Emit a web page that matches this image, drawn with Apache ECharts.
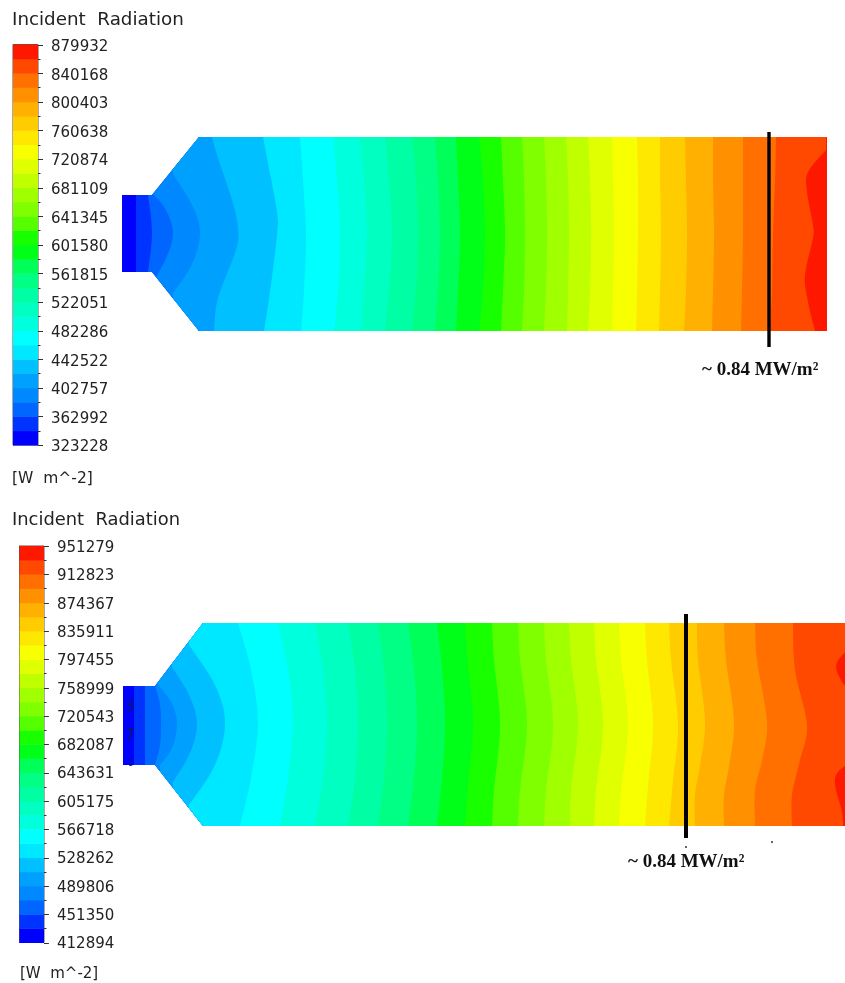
<!DOCTYPE html>
<html><head><meta charset="utf-8">
<style>html,body{margin:0;padding:0;background:#fff}#c{width:845px;height:983px;filter:blur(0.5px)}</style>
<script src="https://cdn.jsdelivr.net/npm/echarts@6/dist/echarts.min.js"></script>
</head><body><div id="c"></div>
<script>
// ---- colour bar tick labels (bottom to top) ----
const topLabels = [323228,362992,402757,442522,482286,522051,561815,601580,641345,681109,720874,760638,800403,840168,879932];
const bottomLabels = [412894,451350,489806,528262,566718,605175,643631,682087,720543,758999,797455,835911,874367,912823,951279];
// ---- 28 contour levels, lowest to highest ----
const levelColors = ['#0000ff','#0033ff','#0066ff','#0088ff','#00a0ff','#00c0ff','#00e8ff','#00ffff','#00ffdc','#00ffc0','#00ffa4','#00ff84','#00ff58','#00ff18','#18ff00','#55ff00','#80ff00','#a0ff00','#c0ff00','#e0ff00','#f8ff00','#ffe800','#ffcc00','#ffb000','#ff9000','#ff7000','#ff4800','#ff1800'];
// ---- domain outlines ----
const topDomain = [[122,195],[152,195],[199,137],[827,137],[827,331],[199,331],[152,272],[122,272]];
const bottomDomain = [[123,686],[155,686],[203,623],[846,623],[846,826],[203,826],[155,765],[123,765]];
// ---- contour lines ----
const topContours = [
 [[136,195],[136,272]],
 [[148,195],[152,233],[148,272]],
 [[153,194],[166,210],[173,233],[167,256],[156,277]],
 [[173,174],[192,205],[200,233],[192,264],[173,293]],
 [[212,137],[217,155],[232,200],[238,228],[236,250],[218,298],[214,331]],
 [[263,137],[267,158],[277,212],[277,235],[270,292],[264,331]],
 [[300,137],[303,180],[306,235],[304,290],[301,331]],
 [[333,137],[337,180],[340,235],[338,290],[334,331]],
 [[360,137],[364,180],[367,235],[364,290],[361,331]],
 [[385,137],[389,180],[392,235],[389,290],[385,331]],
 [[412,137],[416,180],[418,235],[416,290],[412,331]],
 [[435,137],[438,180],[440,235],[438,290],[435,331]],
 [[456,137],[458,180],[460,235],[458,290],[456,331]],
 [[479,137],[483,180],[485,235],[483,290],[479,331]],
 [[501,137],[503,180],[505,235],[503,290],[501,331]],
 [[522,137],[524,180],[525,235],[524,290],[522,331]],
 [[544,137],[546,180],[547,235],[546,290],[544,331]],
 [[566,137],[568,180],[569,235],[568,290],[567,331]],
 [[588,137],[590,180],[591,235],[590,290],[588,331]],
 [[612,137],[613,180],[614,235],[613,290],[612,331]],
 [[637,137],[638,180],[638,235],[637,290],[636,331]],
 [[660,137],[660,180],[661,235],[660,290],[659,331]],
 [[685,137],[686,180],[687,235],[686,290],[684,331]],
 [[713,137],[713,180],[714,235],[713,290],[712,331]],
 [[743,137],[743,180],[743,235],[742,290],[741,331]],
 [[776,137],[775,180],[773,235],[772,290],[770,331]],
 [[826,150],[808,172],[807,192],[813,225],[813,238],[805,275],[808,302],[815,331]]
];
const bottomContours = [
 [[134,686],[134,765]],
 [[145,686],[145,765]],
 [[155,685],[160,705],[161,725],[160,745],[155,765]],
 [[157,683],[171,702],[177,723],[172,748],[160,765]],
 [[172,667],[189,695],[197,723],[190,753],[173,782]],
 [[189,645],[215,685],[225,723],[215,765],[189,805]],
 [[238,623],[251,670],[258,723],[251,778],[240,826]],
 [[278,623],[288,670],[293,723],[288,778],[280,826]],
 [[315,623],[323,670],[327,723],[323,778],[315,826]],
 [[348,623],[355,670],[358,723],[355,778],[348,826]],
 [[378,623],[384,670],[387,723],[384,778],[378,826]],
 [[408,623],[414,670],[417,723],[414,778],[408,826]],
 [[437,623],[442,670],[445,723],[442,778],[437,826]],
 [[465,623],[468,665],[473,723],[468,785],[465,826]],
 [[492,623],[494,660],[500,725],[494,790],[492,826]],
 [[518,623],[520,660],[527,725],[520,790],[518,826]],
 [[544,623],[546,660],[553,725],[546,790],[544,826]],
 [[569,623],[571,660],[578,725],[571,790],[570,826]],
 [[594,623],[596,660],[603,725],[596,790],[594,826]],
 [[619,623],[621,660],[628,725],[621,790],[619,826]],
 [[645,623],[647,660],[653,725],[648,785],[645,826]],
 [[669,623],[671,660],[678,725],[673,780],[669,826]],
 [[697,623],[698,660],[705,722],[700,765],[695,795],[695,826]],
 [[724,623],[726,660],[734,720],[730,760],[724,795],[724,826]],
 [[755,623],[757,660],[767,722],[762,760],[755,790],[755,826]],
 [[793,623],[795,670],[807,725],[800,760],[792,795],[792,826]],
 [[860,640],[837,662],[842,682],[852,692],[862,725],[852,758],[835,778],[842,812],[843,826]]
];
// ---- annotation ----
const topMarker = [[769,132],[769,347]];
const bottomMarker = [[686,614],[686,838]];
const specks = [[686,847],[772,842]];
const markerText = '~ 0.84 MW/m²';
const titleText = 'Incident  Radiation';
const unitText = '[W  m^-2]';

function smooth(pts){
  if(pts.length<3) return pts;
  const out=[];
  for(let i=0;i<pts.length-1;i++){
    const p0=pts[Math.max(i-1,0)],p1=pts[i],p2=pts[i+1],p3=pts[Math.min(i+2,pts.length-1)];
    for(let k=0;k<8;k++){
      const t=k/8,t2=t*t,t3=t2*t;
      out.push([0,1].map(d=>0.5*(2*p1[d]+(p2[d]-p0[d])*t+(2*p0[d]-5*p1[d]+4*p2[d]-p3[d])*t2+(3*p1[d]-p0[d]-3*p2[d]+p3[d])*t3)));
    }
  }
  out.push(pts[pts.length-1]);
  return out;
}
function fieldSeries(domain, contours, xIdx){
  const ys=domain.map(p=>p[1]), yMin=Math.min(...ys)-6, yMax=Math.max(...ys)+6, xFar=900;
  return {
    type:'custom', coordinateSystem:'cartesian2d', xAxisIndex:xIdx, yAxisIndex:xIdx, clip:false, silent:true, z:2,
    data:levelColors.map((c,i)=>[i]),
    renderItem(params,api){
      const i=params.dataIndex;
      const clip=domain.map(p=>api.coord(p));
      let pts;
      if(i===0){pts=clip;}
      else{
        const c=smooth(contours[i-1]);
        pts=[[c[0][0],yMin],...c,[c[c.length-1][0],yMax],[xFar,yMax],[xFar,yMin]].map(p=>api.coord(p));
      }
      return {type:'polygon',shape:{points:pts},style:{fill:levelColors[i],stroke:null},
        clipPath:{type:'polygon',shape:{points:clip}}};
    }
  };
}
function markerSeries(pts,width,xIdx){
  return {type:'line',xAxisIndex:xIdx,yAxisIndex:xIdx,data:pts,symbol:'none',silent:true,z:5,
    lineStyle:{color:'#000',width:width,cap:'butt'}};
}
function barSeries(labels,axisIdx){
  // two bands per labelled interval
  const edges=[];
  labels.forEach((v,i)=>{edges.push(v); if(i<labels.length-1) edges.push((v+labels[i+1])/2);});
  return {type:'custom',xAxisIndex:axisIdx,yAxisIndex:axisIdx,silent:true,z:2,clip:false,
    data:edges.slice(0,-1).map((v,i)=>[0,v,edges[i+1]]),
    renderItem(params,api){
      const a=api.coord([0,api.value(1)]),b=api.coord([1,api.value(2)]);
      return {type:'rect',shape:{x:a[0],y:b[1],width:b[0]-a[0],height:a[1]-b[1]+0.5},
        style:{fill:levelColors[params.dataIndex],stroke:null}};
    }};
}
function tickSeries(labels,axisIdx){
  // long ticks at labels, short ticks at the mid-points
  const data=[];
  labels.forEach((v,i)=>{data.push([v,0.2]); if(i<labels.length-1) data.push([(v+labels[i+1])/2,0.1]);});
  return {type:'custom',xAxisIndex:axisIdx,yAxisIndex:axisIdx,silent:true,z:3,clip:false,data,
    renderItem(params,api){
      const a=api.coord([1,api.value(0)]),b=api.coord([1+api.value(1),api.value(0)]);
      const y=Math.round(a[1])+0.5;
      return {type:'line',shape:{x1:a[0],y1:y,x2:b[0],y2:y},style:{stroke:'#333',lineWidth:1}};
    }};
}
const labelStyle={fontFamily:'DejaVu Sans',fontSize:15,color:'#222',margin:13};
function barAxis(labels){
  return {type:'value',position:'right',min:labels[0],max:labels[labels.length-1],splitLine:{show:false},
    axisLine:{show:true,lineStyle:{color:'#555',width:1}},axisTick:{show:false},axisLabel:{show:false}};
}
function labelAxis(labels){
  return {type:'value',position:'right',min:labels[0],max:labels[labels.length-1],splitLine:{show:false},
    axisLine:{show:false},axisTick:{show:false},
    axisLabel:{...labelStyle,customValues:labels,formatter:v=>String(Math.round(v))}};
}
const hiddenX={type:'value',min:0,max:845,show:false};
const hiddenY={type:'value',min:0,max:983,inverse:true,show:false};
const hiddenBarX={type:'value',min:0,max:1,show:false};
const txt=(text,left,top,size,extra)=>({text,left,top,padding:0,textStyle:{fontFamily:'DejaVu Sans',fontWeight:'normal',fontSize:size,color:'#222',...extra}});
const serif={fontFamily:'Liberation Serif',fontWeight:'bold',color:'#111'};
const stray={color:'#0a1a60'};
const barGrid={show:true,backgroundColor:'transparent',borderColor:'#555',borderWidth:1};

const chart=echarts.init(document.getElementById('c'),null,{renderer:'canvas'});
chart.setOption({
  animation:false,backgroundColor:'#fff',
  title:[
    txt(titleText,12,11,18.3),
    txt(unitText,12,471,15.5),
    txt(titleText,12,511,17.9),
    txt(unitText,20,967,15),
    txt(markerText,702,361,19,serif),
    txt(markerText,628,853,19,serif),
    txt('3',125,700,15,stray),
    txt('7',125,729,15,stray),
    txt('1',128,760,8,stray)
  ],
  grid:[
    {left:0,top:0,width:845,height:983},
    {left:13,top:44.5,width:25,height:400.5,...barGrid},
    {left:19.5,top:546,width:24.5,height:396.5,...barGrid},
    {left:13,top:47.2,width:25,height:400.3},
    {left:19.5,top:548.3,width:24.5,height:396}
  ],
  xAxis:[hiddenX,{...hiddenBarX,gridIndex:1},{...hiddenBarX,gridIndex:2},{...hiddenBarX,gridIndex:3},{...hiddenBarX,gridIndex:4}],
  yAxis:[hiddenY,{...barAxis(topLabels),gridIndex:1},{...barAxis(bottomLabels),gridIndex:2},
    {...labelAxis(topLabels),gridIndex:3},{...labelAxis(bottomLabels),gridIndex:4}],
  series:[
    fieldSeries(topDomain,topContours,0),
    fieldSeries(bottomDomain,bottomContours,0),
    markerSeries(topMarker,3.4,0),
    markerSeries(bottomMarker,4,0),
    {type:'scatter',xAxisIndex:0,yAxisIndex:0,data:specks,symbolSize:2,silent:true,itemStyle:{color:'#000'}},
    barSeries(topLabels,1),
    barSeries(bottomLabels,2),
    tickSeries(topLabels,1),
    tickSeries(bottomLabels,2)
  ]
});
</script></body></html>
